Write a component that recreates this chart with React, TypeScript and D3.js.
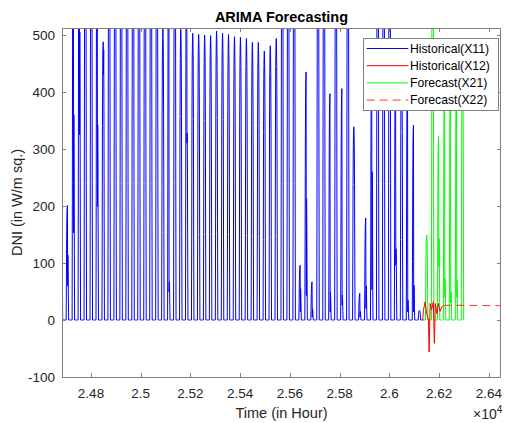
import React from 'react';
import * as d3 from 'd3';

// ---- axis ticks ----
const xTicks = [24800, 25000, 25200, 25400, 25600, 25800, 26000, 26200, 26400];
const xTickLabels = ['2.48', '2.5', '2.52', '2.54', '2.56', '2.58', '2.6', '2.62', '2.64'];
const yTicks = [-100, 0, 100, 200, 300, 400, 500];
const xDomain = [24683.3, 26449];
const yDomain = [-100, 512.3];

// ---- Historical(X11): daily peak values (W/m sq.), one per day ----
const histFirstPeakHour = 24681;
const histStartHour = 24683;
const histEndHour = 26137;
const histPeaks = [
  236, 201, 800, 800, 800, 800, 800, 488, 800, 800,
  800, 800, 800, 800, 800, 800, 800, 511, 800, 800,
  510, 800, 503, 501, 500, 499, 507, 503, 501, 497,
  496, 494, 487, 487, 472, 481, 494, 800, 800, 800,
  96, 435, 67, 800, 800, 397, 800, 406, 800, 339,
  47, 179, 450, 800, 800, 800, 460, 470, 440, 342,
  17,
];
// days with a mid-day dip (cloud): day index, dip low, dip high
const histNotchDays = [1, 2, 3, 6, 7, 18, 21, 40, 41, 42, 45, 47, 50, 51, 52, 56, 58, 59];
const histNotchLow = [60, 153, 325, 199, 430, 49, 310, 14, 43, 5, 14, 26, 5, 20, 53, 96, 14, 14];
const histNotchHigh = [114, 360, 505, 342, 474, 67, 328, 55, 213, 20, 49, 44, 15, 60, 260, 125, 35, 61];

// ---- Forecast(X21): daily peaks ----
const fcFirstPeakHour = 26150;
const fcStartHour = 26133;
const fcEndHour = 26300;
const fcPeaks = [149, 800, 322, 450, 470, 440, 460];
const fcNotchDays = [2, 3, 4, 5];
const fcNotchLow = [94, 40, 30, 40];
const fcNotchHigh = [143, 72, 49, 70];

// relative hourly shape of a clear day around its peak (offsets -4..+4)
const dayShape = [0.3, 0.7, 0.9, 0.97, 1, 0.97, 0.9, 0.7, 0.3];

// ---- Historical(X12): ARIMA fitted values ----
const fitHours = [26134, 26137, 26144, 26150, 26157, 26160, 26164, 26170, 26177, 26181, 26185, 26191, 26197, 26204, 26211, 26217];
const fitValues = [0, 17, 32, 11, 0, -56, 29, 18, 32, -41, 29, 11, 29, 15, 23, 25];

// ---- Forecast(X22) ----
const fc22Hours = [26217, 26240, 26449];
const fc22Values = [25, 26, 25];

const legendLabels = ['Historical(X11)', 'Historical(X12)', 'Forecast(X21)', 'Forecast(X22)'];
const legendColors = ['#0000ff', '#ff0000', '#00ff00', '#ff0000'];
const legendDash = [null, null, null, '8 5'];

function buildDaily(
  firstPeak: number, peaks: number[], notchDays: number[], nLow: number[], nHigh: number[],
  start: number, end: number,
): [number, number][] {
  const pts: [number, number][] = [];
  for (let h = start; h <= end; h++) {
    const k = Math.round((h - firstPeak) / 24);
    const off = h - (firstPeak + 24 * k);
    let v = 0;
    if (k >= 0 && k < peaks.length && off >= -4 && off <= 4) {
      const p = peaks[k];
      const ni = notchDays.indexOf(k);
      if (ni >= 0 && off >= 1) {
        const lo = nLow[ni];
        const hi = nHigh[ni];
        v = off === 1 ? lo : off === 2 ? hi : (hi * dayShape[off + 4]) / 0.9;
      } else {
        v = p * dayShape[off + 4];
      }
    }
    pts.push([h, v]);
  }
  return pts;
}

const FONT = '"Liberation Sans", Arial, Helvetica, sans-serif';

export default function App() {
  const W = 506;
  const H = 423;
  const left = 62;
  const right = 501;
  const top = 28;
  const bottom = 377;
  const x = d3.scaleLinear().domain(xDomain).range([left, right]);
  const y = d3.scaleLinear().domain(yDomain).range([bottom, top]);
  const line = d3.line<[number, number]>().x((d) => x(d[0])).y((d) => y(d[1]));

  const hist = buildDaily(histFirstPeakHour, histPeaks, histNotchDays, histNotchLow, histNotchHigh, histStartHour, histEndHour);
  const fc = buildDaily(fcFirstPeakHour, fcPeaks, fcNotchDays, fcNotchLow, fcNotchHigh, fcStartHour, fcEndHour);
  const fit = fitHours.map((h, i) => [h, fitValues[i]] as [number, number]);
  const fc22 = fc22Hours.map((h, i) => [h, fc22Values[i]] as [number, number]);

  const tickLen = 4.4;
  const axisColor = '#262626';
  const frameColor = '#808080';

  const lgX = 363.5;
  const lgY = 38.5;
  const lgW = 135;
  const lgH = 72;

  return (
    <svg width={W} height={H} style={{ position: 'absolute', left: 0, top: 0, background: '#fff' }} fontFamily={FONT}>
      <defs>
        <clipPath id="plotClip">
          <rect x={left} y={top} width={right - left} height={bottom - top} />
        </clipPath>
      </defs>
      <rect x={0} y={0} width={W} height={H} fill="#fff" />
      <g clipPath="url(#plotClip)" fill="none" strokeWidth={1}>
        <path d={line(hist) || ''} stroke="#0000ff" />
        <path d={line(fc) || ''} stroke="#00ff00" />
        <path d={line(fit) || ''} stroke="#ff0000" />
        <path d={line(fc22) || ''} stroke="#ff0000" strokeWidth={0.8} strokeDasharray="8 5" />
      </g>
      {/* frame */}
      <rect x={left + 0.5} y={top + 0.5} width={right - left - 1} height={bottom - top} fill="none" stroke={frameColor} strokeWidth={1} shapeRendering="crispEdges" />
      {/* x ticks */}
      {xTicks.map((t, i) => {
        const px = Math.round(x(t)) + 0.5;
        return (
          <g key={'xt' + i}>
            <line x1={px} x2={px} y1={bottom} y2={bottom - tickLen} stroke={frameColor} shapeRendering="crispEdges" />
            <line x1={px} x2={px} y1={top} y2={top + tickLen} stroke={frameColor} shapeRendering="crispEdges" />
            <text x={x(t)} y={397.5} textAnchor="middle" fontSize={13.5} fill={axisColor}>{xTickLabels[i]}</text>
          </g>
        );
      })}
      {/* y ticks */}
      {yTicks.map((t, i) => {
        const py = Math.round(y(t)) + 0.5;
        return (
          <g key={'yt' + i}>
            <line x1={left} x2={left + tickLen} y1={py} y2={py} stroke={frameColor} shapeRendering="crispEdges" />
            <line x1={right} x2={right - tickLen} y1={py} y2={py} stroke={frameColor} shapeRendering="crispEdges" />
            <text x={55} y={y(t) + 4.8} textAnchor="end" fontSize={13.5} fill={axisColor}>{t}</text>
          </g>
        );
      })}
      {/* exponent */}
      <text x={473} y={419} fontSize={14} fill={axisColor}>
        ×10<tspan dy={-6} fontSize={10}>4</tspan>
      </text>
      {/* labels */}
      <text x={(left + right) / 2} y={21.5} textAnchor="middle" fontSize={14.5} fontWeight="bold" fill="#000">ARIMA Forecasting</text>
      <text x={(left + right) / 2} y={417.5} textAnchor="middle" fontSize={14.5} fill={axisColor}>Time (in Hour)</text>
      <text transform={`translate(21.5, ${(top + bottom) / 2}) rotate(-90)`} textAnchor="middle" fontSize={14.5} fill={axisColor}>DNI (in W/m sq.)</text>
      {/* legend */}
      <g>
        <rect x={lgX} y={lgY} width={lgW} height={lgH} fill="#fff" stroke={frameColor} strokeWidth={1} />
        {legendLabels.map((lab, i) => {
          const cy = 48.5 + i * 17.2;
          return (
            <g key={'lg' + i}>
              <line x1={366.7} x2={408.3} y1={cy} y2={cy} stroke={legendColors[i]} strokeWidth={i === 3 ? 0.8 : 1} strokeDasharray={legendDash[i] || undefined} />
              <text x={410} y={cy + 4.3} fontSize={12.2} fill="#000">{lab}</text>
            </g>
          );
        })}
      </g>
    </svg>
  );
}
